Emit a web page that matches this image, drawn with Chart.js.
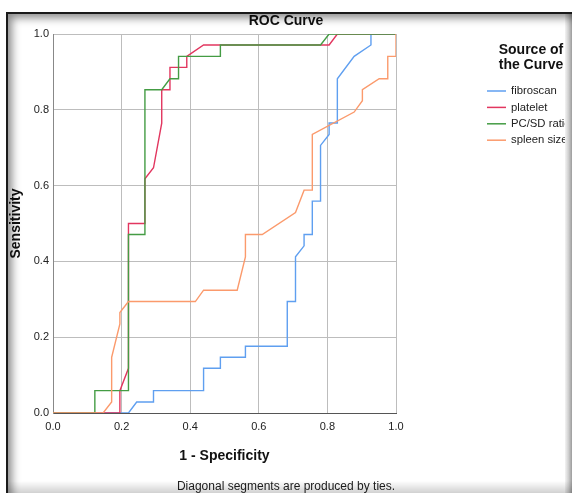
<!DOCTYPE html>
<html>
<head>
<meta charset="utf-8">
<title>ROC Curve</title>
<script src="https://cdn.jsdelivr.net/npm/chart.js@4.4.1/dist/chart.umd.min.js"></script>
<style>
  html, body { margin: 0; padding: 0; background: #fff; }
  #wrap { position: relative; width: 572px; height: 493px; overflow: hidden; }
  #roc { position: absolute; left: 0; top: 0; }
  .edgeR { position: absolute; left: 565px; top: 12px; width: 7px; height: 481px;
    background: linear-gradient(to right, #f4f4f4, #cfcfcf 50%, #9c9c9c); }
  .edgeB { position: absolute; left: 6px; top: 481px; width: 566px; height: 12px;
    background: linear-gradient(to bottom, rgba(0,0,0,0), rgba(0,0,0,0.18)); pointer-events: none; }
  .frame { position: absolute; left: 6px; top: 12px; width: 566px; height: 481px; box-sizing: border-box;
    border-top: 2px solid #1a1a1a; border-left: 2px solid #1a1a1a;
    box-shadow: inset 7px 7px 9px -3px rgba(0,0,0,0.45); pointer-events: none; }
</style>
</head>
<body>
<div id="wrap">
  <canvas id="roc" width="572" height="493"></canvas>
  <div class="edgeR"></div>
  <div class="edgeB"></div>
  <div class="frame"></div>
</div>
<script>
// series (x = 1 - specificity, y = sensitivity)
const seriesNames = ['fibroscan', 'platelet', 'PC/SD ratio', 'spleen size'];
const seriesColors = ['#5f9ff0', '#e2365f', '#449c44', '#fb9a6c'];

const fibroscanX = [0, 0.22, 0.244, 0.293, 0.293, 0.439, 0.439, 0.488, 0.488, 0.561, 0.561, 0.683, 0.683, 0.707, 0.707, 0.732, 0.732, 0.756, 0.756, 0.780, 0.780, 0.805, 0.805, 0.829, 0.829, 0.878, 0.927, 0.927, 1];
const fibroscanY = [0, 0, 0.029, 0.029, 0.059, 0.059, 0.118, 0.118, 0.147, 0.147, 0.176, 0.176, 0.294, 0.294, 0.412, 0.441, 0.471, 0.471, 0.559, 0.559, 0.706, 0.735, 0.765, 0.765, 0.882, 0.941, 0.971, 1, 1];

const plateletX = [0, 0.195, 0.195, 0.22, 0.22, 0.268, 0.268, 0.293, 0.317, 0.317, 0.341, 0.341, 0.39, 0.39, 0.439, 0.805, 0.829, 1];
const plateletY = [0, 0, 0.059, 0.118, 0.5, 0.5, 0.618, 0.647, 0.765, 0.853, 0.853, 0.912, 0.912, 0.941, 0.971, 0.971, 1, 1];

const pcsdX = [0, 0.122, 0.122, 0.22, 0.22, 0.268, 0.268, 0.317, 0.341, 0.366, 0.366, 0.488, 0.488, 0.780, 0.805, 1];
const pcsdY = [0, 0, 0.059, 0.059, 0.471, 0.471, 0.853, 0.853, 0.882, 0.882, 0.941, 0.941, 0.971, 0.971, 1, 1];

const spleenX = [0, 0.146, 0.171, 0.171, 0.195, 0.195, 0.22, 0.415, 0.439, 0.537, 0.561, 0.561, 0.610, 0.707, 0.732, 0.756, 0.756, 0.878, 0.902, 0.902, 0.951, 0.976, 0.976, 1, 1];
const spleenY = [0, 0, 0.029, 0.147, 0.235, 0.265, 0.294, 0.294, 0.324, 0.324, 0.412, 0.471, 0.471, 0.529, 0.588, 0.588, 0.735, 0.794, 0.824, 0.853, 0.882, 0.882, 0.941, 0.941, 1];

const seriesX = [fibroscanX, plateletX, pcsdX, spleenX];
const seriesY = [fibroscanY, plateletY, pcsdY, spleenY];

Chart.defaults.font.family = '"Liberation Sans", Arial, sans-serif';
Chart.defaults.color = '#222';

function toPoints(xs, ys) {
  return xs.map((x, i) => ({ x: x, y: ys[i] }));
}

// legend box on the right, like the SPSS one
const curveLegend = {
  id: 'curveLegend',
  afterDraw(chart) {
    const ctx = chart.ctx;
    ctx.save();
    ctx.fillStyle = '#111';
    ctx.textBaseline = 'middle';
    ctx.textAlign = 'center';
    ctx.font = 'bold 14px "Liberation Sans", Arial, sans-serif';
    ctx.fillText('Source of', 531, 50);
    ctx.fillText('the Curve', 531, 65);
    ctx.textAlign = 'left';
    ctx.font = '11.3px "Liberation Sans", Arial, sans-serif';
    chart.data.datasets.forEach((ds, i) => {
      const y = 91 + i * 16.4;
      ctx.strokeStyle = ds.borderColor;
      ctx.lineWidth = 1.5;
      ctx.beginPath();
      ctx.moveTo(487, y);
      ctx.lineTo(506, y);
      ctx.stroke();
      ctx.fillStyle = '#222';
      ctx.fillText(ds.label, 511, y);
    });
    ctx.restore();
  }
};

const datasets = seriesNames.map((name, i) => ({
  label: name,
  data: toPoints(seriesX[i], seriesY[i]),
  borderColor: seriesColors[i],
  backgroundColor: seriesColors[i],
  borderWidth: 1.4,
  showLine: true,
  pointRadius: 0,
  tension: 0,
  fill: false,
  order: seriesNames.length - i
}));

new Chart(document.getElementById('roc'), {
  type: 'scatter',
  data: { datasets: datasets },
  options: {
    responsive: false,
    animation: false,
    devicePixelRatio: 1,
    layout: { padding: 0 },
    plugins: {
      legend: { display: false },
      tooltip: { enabled: false },
      title: {
        display: true,
        text: 'ROC Curve',
        color: '#111',
        font: { size: 14, weight: 'bold' },
        padding: { top: 12.6, bottom: 4.6 }
      },
      subtitle: {
        display: true,
        position: 'bottom',
        text: 'Diagonal segments are produced by ties.',
        color: '#222',
        font: { size: 12, lineHeight: 1 },
        padding: { top: 0, bottom: 0 }
      }
    },
    scales: {
      x: {
        type: 'linear',
        min: 0,
        max: 1,
        ticks: { stepSize: 0.2, padding: 7, font: { size: 11 }, callback: v => v.toFixed(1) },
        grid: { color: '#bdbdbd', drawTicks: false },
        border: { color: '#555' },
        title: {
          display: true,
          text: '1 - Specificity',
          color: '#111',
          font: { size: 14, weight: 'bold' },
          padding: { top: 0, bottom: 16 }
        },
        afterFit: s => { s.height = 68; }
      },
      y: {
        type: 'linear',
        min: 0,
        max: 1,
        ticks: { stepSize: 0.2, padding: 4, font: { size: 11 }, callback: v => v.toFixed(1) },
        grid: { color: '#bdbdbd', drawTicks: false },
        border: { color: '#888' },
        title: {
          display: true,
          text: 'Sensitivity',
          color: '#111',
          font: { size: 14, weight: 'bold' },
          padding: { top: 8, bottom: 0 }
        },
        afterFit: s => { s.width = 53; }
      },
      // empty right-hand axis that keeps room for the legend
      yRight: {
        position: 'right',
        min: 0,
        max: 1,
        grid: { display: false },
        border: { display: false },
        ticks: { display: false },
        afterFit: s => { s.width = 176; }
      }
    }
  },
  plugins: [curveLegend]
});
</script>
</body>
</html>
